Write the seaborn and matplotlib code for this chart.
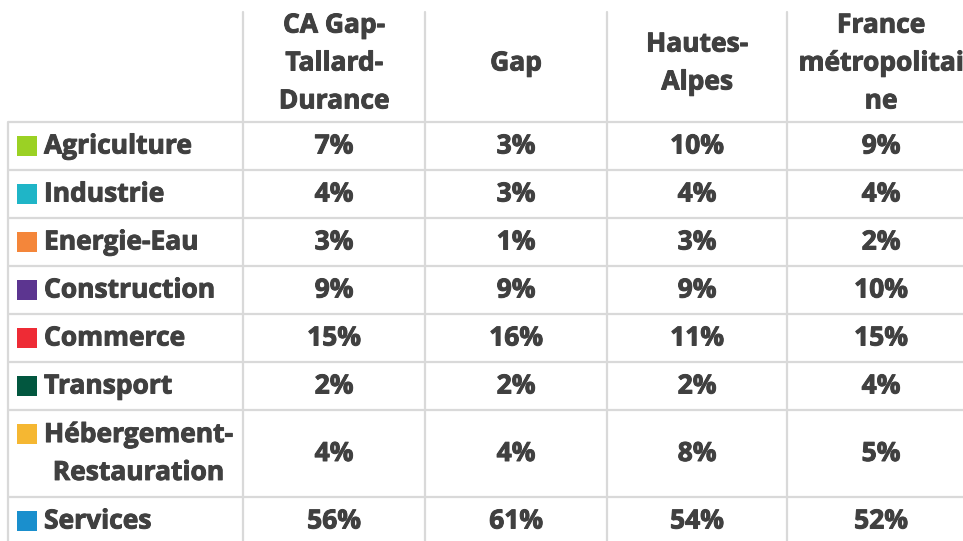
import matplotlib
matplotlib.use("Agg")
import matplotlib.pyplot as plt
import matplotlib.patheffects as pe
import seaborn as sns
import pandas as pd

# ---- data ----
sectors = ["Agriculture", "Industrie", "Energie-Eau", "Construction", "Commerce",
           "Transport", "Hébergement-\nRestauration", "Services"]
sector_colors = ["#9BD124", "#1FB5C7", "#F4863A", "#5C3590", "#EE2B35",
                 "#02573F", "#F5B732", "#1A8FCD"]
columns = ["CA Gap-\nTallard-\nDurance", "Gap", "Hautes-\nAlpes", "France\nmétropolitai\nne"]
ca_gap = [7, 4, 3, 9, 15, 2, 4, 56]
gap = [3, 3, 1, 9, 16, 2, 4, 61]
hautes_alpes = [10, 4, 3, 9, 11, 2, 8, 54]
france = [9, 4, 2, 10, 15, 4, 5, 52]
values = [ca_gap, gap, hautes_alpes, france]

# ---- layout (pixels) ----
W, H = 963, 541
col_edges = [8, 243, 425, 607, 787, 975]
header_top, header_bottom = 12, 122
header_center = 63
row_heights = [48, 48, 48, 48, 48, 48, 87, 48]
row_edges = [header_bottom]
for h in row_heights:
    row_edges.append(row_edges[-1] + h)

sns.set_theme(style="white")
plt.rcParams["font.family"] = ["Open Sans", "DejaVu Sans"]
text_color = "#404040"
grid_color = "#D9D9D9"
fs = 19
ls = 1.52
fx = [pe.withStroke(linewidth=0.7, foreground=text_color)]

fig = plt.figure(figsize=(W / 100, H / 100), dpi=100)
ax = fig.add_axes([0, 0, 1, 1])

# row label colour squares (seaborn scatter)
centers = [(row_edges[i] + row_edges[i + 1]) / 2 for i in range(len(sectors))]
sq_y = [c - 19.5 * name.count("\n") for c, name in zip(centers, sectors)]
sq = pd.DataFrame({"x": [27] * len(sectors), "y": sq_y, "sector": sectors})
sns.scatterplot(data=sq, x="x", y="y", hue="sector", palette=sector_colors,
                marker="s", s=215, linewidth=0, legend=False, ax=ax, zorder=3)
ax.set_xlim(0, W)
ax.set_ylim(H, 0)
ax.axis("off")

# grid lines
for y in row_edges:
    ax.plot([col_edges[0], W + 10], [y, y], color=grid_color, lw=1.6, solid_capstyle="butt", zorder=1)
ax.plot([col_edges[0], col_edges[0]], [header_bottom, row_edges[-1]], color=grid_color, lw=1.6, zorder=1)
for x in col_edges[1:-1]:
    ax.plot([x, x], [header_top, row_edges[-1]], color=grid_color, lw=1.6, zorder=1)

# header
for j, name in enumerate(columns):
    cx = (col_edges[j + 1] + col_edges[j + 2]) / 2
    ax.text(cx, header_center, name, ha="center", va="center",
            fontsize=fs, fontweight="bold", color=text_color, linespacing=ls, path_effects=fx)

for i, name in enumerate(sectors):
    ax.text(44, centers[i], name, ha="left", va="center", multialignment="center",
            fontsize=fs, fontweight="bold", color=text_color, linespacing=ls, path_effects=fx)

# values
for j, col in enumerate(values):
    cx = (col_edges[j + 1] + col_edges[j + 2]) / 2
    for i, v in enumerate(col):
        ax.text(cx, centers[i], f"{v}%", ha="center", va="center",
                fontsize=fs, fontweight="bold", color=text_color, path_effects=fx)

fig.savefig("out.png", dpi=100, facecolor="white")
